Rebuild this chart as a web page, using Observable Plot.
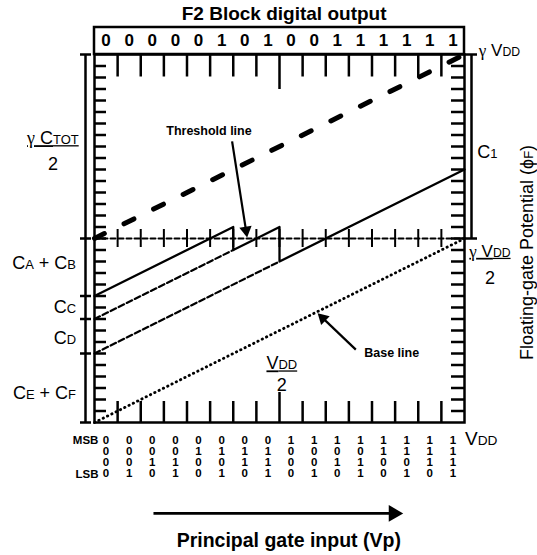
<!DOCTYPE html>
<html><head><meta charset="utf-8">
<script src="https://cdn.jsdelivr.net/npm/d3@7"></script>
<script src="https://cdn.jsdelivr.net/npm/@observablehq/plot@0.6"></script>
<style>body{margin:0;background:#fff}</style>
</head><body><div id="chart"></div>
<script>
// ---------- data ----------
const outputBits = ["0","0","0","0","0","1","0","1","0","0","1","1","1","1","1","1"];
const inputCodes = ["0000","0001","0010","0011","0100","0101","0110","0111",
                    "1000","1001","1010","1011","1100","1101","1110","1111"];
const bitRowLabels = ["MSB", "", "", "LSB"];
// floating-gate potential (units of γ·VDD) vs principal gate input (code 0..16)
const baseLineX = [0, 16];        const baseLineY = [0, 0.5];
const ctotLineX = [0, 16];        const ctotLineY = [0.5, 1.0];
const thresholdX = [0, 16];       const thresholdY = [0.5, 0.5];
const fgSolidX = [0, 6, 6, 8, 8, 16];
const fgSolidY = [0.34375, 0.53125, 0.46875, 0.53125, 0.4375, 0.6875];
const fgDashAX = [0, 6];          const fgDashAY = [0.28125, 0.46875];
const fgDashBX = [0, 8];          const fgDashBY = [0.1875, 0.4375];
const capLevelsLeft = [1, 0.5, 0.34375, 0.28125, 0.1875, 0];
const capLevelsRight = [1, 0.5];
const columnBoundaries = d3.range(1, 16);
const minorLevels = d3.range(1, 32).map(k => k / 32);

const pts = (xs, ys) => xs.map((x, i) => ({x, y: ys[i]}));

// ---------- layout ----------
const W = 537, H = 555, ML = 94, MR = 73, MT = 54, MB = 133;
const sx = Plot.scale({x: {domain: [0, 16], range: [ML, W - MR]}});
const sy = Plot.scale({y: {domain: [0, 1], range: [H - MB, MT]}});
const pxX = p => p / ((W - ML - MR) / 16);
const pxY = p => p / (H - MT - MB);

const FONT = "Liberation Sans, Arial, sans-serif";
const lbl = (x, y, t, o = {}) => Plot.text([{x, y, t}], {x: "x", y: "y", text: "t", fill: "black", ...o});

function arrow(t, h, r, sw) {
  const x0 = sx.apply(t[0]), y0 = sy.apply(t[1]), x1 = sx.apply(h[0]), y1 = sy.apply(h[1]);
  const dx = x1 - x0, dy = y1 - y0, L = Math.hypot(dx, dy), ux = dx / L, uy = dy / L;
  const a = Math.sqrt(Math.PI * r * r / (3 * Math.sqrt(3)));
  const cx = x1 - 2 * a * ux, cy = y1 - 2 * a * uy;
  const bx = x1 - 2.5 * a * ux, by = y1 - 2.5 * a * uy;
  const rot = Math.atan2(dx, -dy) * 180 / Math.PI;
  return [
    Plot.link([0], {x1: () => t[0], y1: () => t[1], x2: () => sx.invert(bx), y2: () => sy.invert(by),
                    stroke: "black", strokeWidth: sw}),
    Plot.dot([0], {x: () => sx.invert(cx), y: () => sy.invert(cy), r, symbol: "triangle",
                   rotate: rot, fill: "black", stroke: "none"})
  ];
}

const TW = 2.5;
const plot = Plot.plot({
  width: W, height: H,
  marginLeft: ML, marginRight: MR, marginTop: MT, marginBottom: MB,
  x: {domain: [0, 16], axis: null},
  y: {domain: [0, 1], axis: null},
  style: {fontFamily: FONT, background: "white", overflow: "visible"},
  marks: [
    // curves
    Plot.line(pts(baseLineX, baseLineY), {x: "x", y: "y", stroke: "black", strokeWidth: 2.8,
        strokeDasharray: "0.4,4.4", strokeLinecap: "round"}),
    Plot.line(pts(ctotLineX, ctotLineY), {x: "x", y: "y", stroke: "black", strokeWidth: 5, strokeDasharray: "11,22"}),
    Plot.line(pts(thresholdX, thresholdY), {x: "x", y: "y", stroke: "black", strokeWidth: 2, strokeDasharray: "5,3"}),
    Plot.line(pts(fgDashAX, fgDashAY), {x: "x", y: "y", stroke: "black", strokeWidth: 2.2, strokeDasharray: "6,3"}),
    Plot.line(pts(fgDashBX, fgDashBY), {x: "x", y: "y", stroke: "black", strokeWidth: 2.2, strokeDasharray: "6,3"}),
    Plot.line(pts(fgSolidX, fgSolidY), {x: "x", y: "y", stroke: "black", strokeWidth: 2.3}),
    // frame and tick marks
    Plot.frame({stroke: "black", strokeWidth: TW}),
    Plot.rect([{}], {x1: 0, x2: 16, y1: 1, y2: 1 + pxY(27), stroke: "black", fill: "none", strokeWidth: TW}),
    Plot.ruleX(columnBoundaries, {x: d => d, y1: 1, y2: d => 1 - pxY(d === 8 ? 35 : 22.5), stroke: "black", strokeWidth: TW}),
    Plot.ruleX(columnBoundaries, {x: d => d, y1: 0, y2: d => pxY(d === 8 ? 30 : 21), stroke: "black", strokeWidth: TW}),
    Plot.ruleX(columnBoundaries, {x: d => d, y1: 0.5 - pxY(9), y2: 0.5 + pxY(9), stroke: "black", strokeWidth: 2}),
    Plot.ruleY(minorLevels, {y: d => d, x1: 0, x2: pxX(12), stroke: "black", strokeWidth: TW}),
    Plot.ruleY(minorLevels, {y: d => d, x1: 16 - pxX(13), x2: 16, stroke: "black", strokeWidth: TW}),
    // brackets
    Plot.ruleX([0], {x: -pxX(9), y1: 0, y2: 1, stroke: "black", strokeWidth: TW}),
    Plot.ruleY(capLevelsLeft, {y: d => d, x1: -pxX(14), x2: -pxX(3), stroke: "black", strokeWidth: TW}),
    Plot.ruleX([0], {x: 16 + pxX(7), y1: 0.5, y2: 1, stroke: "black", strokeWidth: TW}),
    Plot.ruleY(capLevelsRight, {y: d => d, x1: 16 + pxX(1), x2: 16 + pxX(13), stroke: "black", strokeWidth: TW}),
    // top: digital output
    lbl(8.2, 1.109, "F2 Block digital output", {fontSize: 19, fontWeight: "bold"}),
    Plot.text(outputBits, {x: (d, i) => i + 0.5, y: 1 + pxY(13.5), text: d => d, fontSize: 17, fontWeight: "bold", fill: "black"}),
    // bottom: input codes
    ...[0, 1, 2, 3].map(r => Plot.text(inputCodes, {x: (d, i) => i + 0.5, y: -pxY(18 + r * 10.9), text: d => d[r],
        fontSize: 11.5, fontWeight: "bold", fill: "black"})),
    ...bitRowLabels.map((t, r) => lbl(0.17, -pxY(18 + r * 10.9 + (r === 3 ? 1 : 0)), t,
        {fontSize: 11.5, fontWeight: "bold", textAnchor: "end"})),
    lbl(16.02, -pxY(16), "V{DD}", {fontSize: 19, textAnchor: "start"}),
    // left labels
    lbl(-1.8, 0.772, "_γ C{TOT}", {fontSize: 18}),
    lbl(-1.8, 0.702, "2", {fontSize: 18}),
    lbl(-0.8, 0.432, "C{A} + C{B}", {fontSize: 18, textAnchor: "end"}),
    lbl(-0.8, 0.312, "C{C}", {fontSize: 18, textAnchor: "end"}),
    lbl(-0.8, 0.228, "C{D}", {fontSize: 18, textAnchor: "end"}),
    lbl(-0.8, 0.079, "C{E} + C{F}", {fontSize: 18, textAnchor: "end"}),
    // right labels
    lbl(16.62, 1.012, "γ V{DD}", {fontSize: 17, textAnchor: "start"}),
    lbl(16.55, 0.734, "C{1}", {fontSize: 18, textAnchor: "start"}),
    lbl(17.1, 0.465, "_γ V{DD}", {fontSize: 17}),
    lbl(17.1, 0.392, "2", {fontSize: 18}),
    lbl(18.7, 0.462, "Floating-gate Potential (ϕ{F})", {fontSize: 18, rotate: -90}),
    // annotations inside
    lbl(4.95, 0.791, "Threshold line", {fontSize: 12.5, fontWeight: "bold"}),
    ...arrow([5.95, 0.764], [6.6, 0.503], 4.6, 2.2),
    lbl(12.85, 0.188, "Base line", {fontSize: 12.5, fontWeight: "bold"}),
    ...arrow([11.3, 0.198], [9.65, 0.297], 4.6, 2.2),
    lbl(8.1, 0.160, "_V{DD}", {fontSize: 18}),
    lbl(8.1, 0.100, "2", {fontSize: 18}),
    // bottom axis title
    ...arrow([2.55, -0.247], [13.35, -0.247], 6.2, 2.6),
    lbl(8.4, -0.32, "Principal gate input (Vp)", {fontSize: 19.5, fontWeight: "bold"})
  ]
});

// rich text: {..} = smaller letters on the baseline, leading "_" = underlined, γ in a serif face
const NS = "http://www.w3.org/2000/svg";
function rich(el) {
  let s = el.textContent, underline = false;
  if (s.startsWith("_")) { underline = true; s = s.slice(1); }
  if (!underline && !s.includes("{") && !s.includes("γ")) return;
  el.textContent = "";
  for (const p of s.split(/(\{[^}]*\}|γ)/)) {
    if (!p) continue;
    const ts = document.createElementNS(NS, "tspan");
    if (p.startsWith("{")) { ts.textContent = p.slice(1, -1); ts.setAttribute("font-size", "0.72em"); }
    else if (p === "γ") { ts.textContent = p; ts.setAttribute("font-family", "Liberation Serif, DejaVu Serif, serif"); }
    else ts.textContent = p;
    el.appendChild(ts);
  }
  if (underline) el.setAttribute("text-decoration", "underline");
}
plot.querySelectorAll("text").forEach(rich);
document.getElementById("chart").appendChild(plot);
</script>
</body></html>
